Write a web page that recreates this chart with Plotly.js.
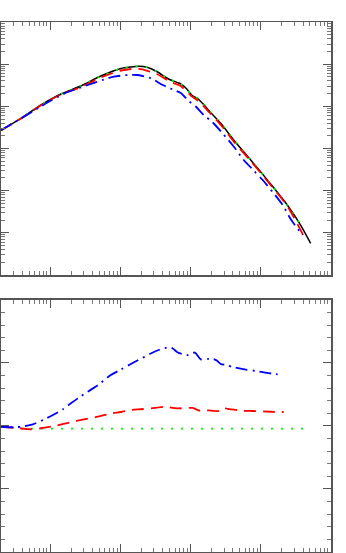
<!DOCTYPE html>
<html>
<head>
<meta charset="utf-8">
<script src="https://cdn.plot.ly/plotly-3.0.1.min.js"></script>
<style>
  html, body { margin: 0; padding: 0; background: #fff; }
  #chart { width: 346px; height: 553px; }
</style>
</head>
<body>
<div id="chart"></div>
<script>
"use strict";

/******************************** Top panel data *********************************/

var kBlack = [0.020, 0.0384, 0.074, 0.142, 0.274, 0.528, 1.02, 1.41, 1.83, 2.38, 3.30, 4.58, 5.22, 6.79, 7.24,
              8.83, 10.07, 11.1, 12.65, 13.96, 15.4, 18.2, 26.9, 41.1, 71.8, 138, 241, 369, 513];
var pBlack = [2704, 5200, 10760, 19630, 30340, 52380, 78890, 85700, 89000, 84700, 67000, 47000, 42200, 35770, 33880,
              25760, 19630, 17100, 15350, 13030, 11060, 7970, 3960, 1592, 535, 144, 44.6, 15.3, 5.65];

var kGreen = [0.020, 0.0384, 0.074, 0.142, 0.274, 0.528, 1.02, 1.41, 1.83, 2.38, 3.30, 4.58, 5.22, 6.79, 7.24,
              8.83, 10.07, 11.1, 12.65, 13.96, 15.4, 18.2, 26.9, 41.1, 71.8, 138, 241, 369];
var pGreen = [2704, 5200, 10760, 19630, 30340, 52380, 78890, 85700, 89000, 84700, 67000, 47000, 42200, 35770, 33880,
              25760, 19630, 17100, 15350, 13030, 11060, 7970, 3960, 1592, 535, 144, 44.6, 15.3];

var kRed = [0.020, 0.0384, 0.074, 0.142, 0.274, 0.528, 1.02, 1.83, 3.30, 5.22, 7.24, 10.07, 13.96, 18.2,
            26.9, 41.1, 71.8, 138, 241, 407];
var pRed = [2704, 5150, 10590, 19090, 28740, 48300, 70780, 77670, 58470, 37780, 30360, 18070, 12000, 7340,
            3650, 1466, 505, 136.3, 42.1, 8.42];

var kBlue = [0.020, 0.0384, 0.074, 0.1026, 0.179, 0.345, 0.582, 0.808, 1.278, 1.774, 2.715, 4.02, 5.77, 7.24,
             9.42, 11.85, 15.4, 20.7, 28.7, 41.1, 57.1, 79.2, 106.4, 152.6, 204.8, 266.2, 390.6];
var pBlue = [2704, 5150, 9970, 13750, 21880, 32060, 43290, 50470, 55360, 55360, 46240, 32060, 24410, 20720,
             13390, 9910, 6230, 4140, 2270, 1116, 534, 301, 179, 86.7, 45.8, 21.3, 8.89];

/******************************** Bottom panel data *********************************/

var kBlueR = [0.020, 0.0305, 0.041, 0.0569, 0.079, 0.1096, 0.152, 0.1975, 0.2567, 0.3563, 0.4784, 0.732, 1.016,
              1.41, 2.715, 3.527, 4.895, 5.58, 6.575, 9.12, 11.47, 13.96, 17.56, 20.01, 23.58, 26.9, 31.67,
              41.1, 60.95, 84.6, 121.3, 173.9];
var rBlue = [-0.006, -0.01, -0.004, 0.013, 0.048, 0.087, 0.133, 0.18, 0.225, 0.278, 0.325, 0.405, 0.448,
             0.492, 0.575, 0.603, 0.625, 0.615, 0.583, 0.563, 0.583, 0.529, 0.532, 0.536, 0.52, 0.492, 0.484,
             0.466, 0.448, 0.437, 0.422, 0.409];

var kRedR = [0.020, 0.0326, 0.0533, 0.074, 0.1209, 0.185, 0.3023, 0.4784, 0.732, 1.016, 1.41, 1.956, 2.715,
             4.293, 6.362, 10.74, 13.08, 14.91, 25.18, 29.66, 33.81, 55.26, 76.66, 138, 211.6];
var rRed = [-0.006, -0.016, -0.026, -0.018, 0.002, 0.026, 0.053, 0.074, 0.099, 0.111, 0.127, 0.133, 0.140,
            0.153, 0.140, 0.143, 0.123, 0.127, 0.119, 0.143, 0.135, 0.121, 0.119, 0.113, 0.111];

var kGreenR = [0.0384, 407];
var rGreen = [-0.021, -0.021];

/******************************** Traces *********************************/

var data = [
  {x: kBlack, y: pBlack, xaxis: 'x2', yaxis: 'y2', mode: 'lines',
   line: {color: '#000000', width: 1.5, shape: 'spline', smoothing: 0.7}},
  {x: kGreen, y: pGreen, xaxis: 'x2', yaxis: 'y2', mode: 'lines',
   line: {color: '#00ee00', width: 1.8, dash: '2px,8px', shape: 'spline', smoothing: 0.7}},
  {x: kRed, y: pRed, xaxis: 'x2', yaxis: 'y2', mode: 'lines',
   line: {color: '#ff0000', width: 1.8, dash: '12px,7px', shape: 'spline', smoothing: 0.7}},
  {x: kBlue, y: pBlue, xaxis: 'x2', yaxis: 'y2', mode: 'lines',
   line: {color: '#0000ff', width: 1.8, dash: '12px,5px,2px,5px', shape: 'spline', smoothing: 0.7}},

  {x: kGreenR, y: rGreen, xaxis: 'x', yaxis: 'y', mode: 'lines',
   line: {color: '#00ee00', width: 1.8, dash: '2px,8px'}},
  {x: kRedR, y: rRed, xaxis: 'x', yaxis: 'y', mode: 'lines',
   line: {color: '#ff0000', width: 1.8, dash: '12px,7px', shape: 'spline', smoothing: 0.7}},
  {x: kBlueR, y: rBlue, xaxis: 'x', yaxis: 'y', mode: 'lines',
   line: {color: '#0000ff', width: 1.8, dash: '12px,5px,2px,5px', shape: 'spline', smoothing: 0.7}}
];

function logAxis(extra) {             /****** shared frame style ******/
  var ax = {
    type: 'log', showgrid: false, zeroline: false, showticklabels: false,
    showline: true, linecolor: '#555', linewidth: 1.5, mirror: 'allticks',
    ticks: 'inside', ticklen: 8, tickcolor: '#555', tickwidth: 1, dtick: 1,
    minor: {ticks: 'inside', ticklen: 4, tickcolor: '#777', dtick: 'D1', showgrid: false}
  };
  return Object.assign(ax, extra);
}

var layout = {
  width: 346, height: 553,
  margin: {l: 1, r: 15, t: 22, b: 1},
  showlegend: false,
  paper_bgcolor: '#fff', plot_bgcolor: '#fff',
  xaxis: logAxis({range: [-1.7, 3.0], anchor: 'y'}),
  yaxis: {
    domain: [0, 0.4755], range: [-1, 1], anchor: 'x',
    showgrid: false, zeroline: false, showticklabels: false,
    showline: true, linecolor: '#555', linewidth: 1.5, mirror: 'allticks',
    ticks: 'inside', ticklen: 8, tickcolor: '#555', dtick: 0.5,
    minor: {ticks: 'inside', ticklen: 4, tickcolor: '#777', dtick: 0.1, showgrid: false}
  },
  xaxis2: logAxis({range: [-1.7, 3.0], anchor: 'y2'}),
  yaxis2: logAxis({range: [0, 6], domain: [0.5226, 1], anchor: 'x2'})
};

Plotly.newPlot('chart', data, layout, {staticPlot: true});
</script>
</body>
</html>
